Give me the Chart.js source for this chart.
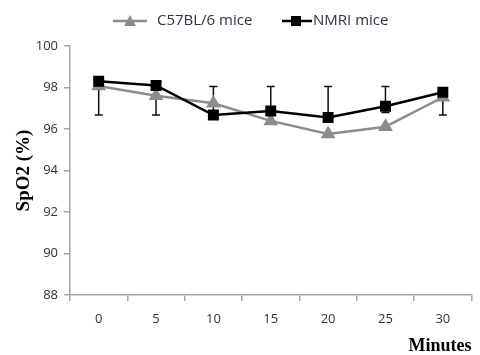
<!DOCTYPE html>
<html lang="en">
<head>
    <meta charset="UTF-8">
    <script src="https://cdn.jsdelivr.net/npm/chart.js@4.4.0/dist/chart.umd.min.js"></script>
    <title>SpO2</title>
    <style>
        body { margin: 0; background: #fff; }
        #wrap { width: 480px; height: 355px; position: relative; }
    </style>
</head>
<body>
<div id="wrap"><canvas id="myChart" width="480" height="355"></canvas></div>
<script>
    // data
    const minutes = ['0', '5', '10', '15', '20', '25', '30'];
    const c57Values = [98.07, 97.6, 97.24, 96.39, 95.76, 96.11, 97.53];
    const nmriValues = [98.3, 98.1, 96.67, 96.87, 96.55, 97.1, 97.77];
    // error bar ends (black whiskers)
    const errHigh = [98.3, 98.1, 98.05, 98.05, 98.05, 98.05, 97.77];
    const errLow = [96.67, 96.67, 96.67, 96.87, 96.55, 96.8, 96.67];
    const yTicks = [88, 90, 92, 94, 96, 98, 100];

    const tickFont = { family: 'Open Sans', size: 13 };
    const tickColor = '#2b3340';
    const axisGrey = '#a6a6a6';

    // whiskers with small caps
    const errorBars = {
        id: 'errorBars',
        beforeDatasetsDraw(chart) {
            const ctx = chart.ctx;
            const x = chart.scales.x, y = chart.scales.y;
            ctx.save();
            ctx.strokeStyle = '#111';
            ctx.lineWidth = 1.5;
            minutes.forEach((m, i) => {
                const px = x.getPixelForValue(i);
                const top = y.getPixelForValue(errHigh[i]);
                const bot = y.getPixelForValue(errLow[i]);
                ctx.beginPath();
                ctx.moveTo(px, top); ctx.lineTo(px, bot);
                ctx.moveTo(px - 4, top); ctx.lineTo(px + 4, top);
                ctx.moveTo(px - 4, bot); ctx.lineTo(px + 4, bot);
                ctx.stroke();
            });
            ctx.restore();
        }
    };

    // legend with line + marker like the original
    const lineLegend = {
        id: 'lineLegend',
        afterDraw(chart) {
            const ctx = chart.ctx;
            ctx.save();
            ctx.font = '15px "Open Sans"';
            ctx.textBaseline = 'middle';
            const yy = 21;
            // C57BL/6
            ctx.strokeStyle = '#8c8c8c'; ctx.lineWidth = 2.5;
            ctx.beginPath(); ctx.moveTo(113, yy); ctx.lineTo(147, yy); ctx.stroke();
            ctx.fillStyle = '#8c8c8c';
            ctx.beginPath(); ctx.moveTo(130, yy - 6); ctx.lineTo(136, yy + 5); ctx.lineTo(124, yy + 5); ctx.closePath(); ctx.fill();
            ctx.fillStyle = '#2b3340';
            ctx.fillText(chart.data.datasets[0].label, 157, yy);
            // NMRI
            ctx.strokeStyle = '#000';
            ctx.beginPath(); ctx.moveTo(282, yy); ctx.lineTo(312, yy); ctx.stroke();
            ctx.fillStyle = '#000';
            ctx.fillRect(291, yy - 5, 10, 10);
            ctx.fillStyle = '#2b3340';
            ctx.fillText(chart.data.datasets[1].label, 313, yy);
            ctx.restore();
        }
    };

    const ctx = document.getElementById('myChart').getContext('2d');
    const myChart = new Chart(ctx, {
        type: 'line',
        data: {
            labels: minutes,
            datasets: [{
                label: 'C57BL/6 mice',
                data: c57Values,
                borderColor: '#8c8c8c',
                backgroundColor: '#8c8c8c',
                borderWidth: 2.5,
                pointStyle: 'triangle',
                pointRadius: 6,
                pointHoverRadius: 6,
                order: 1
            }, {
                label: 'NMRI mice',
                data: nmriValues,
                borderColor: '#000',
                backgroundColor: '#000',
                borderWidth: 2.5,
                pointStyle: 'rect',
                pointRadius: 6,
                pointHoverRadius: 6,
                order: 0
            }]
        },
        options: {
            responsive: false,
            animation: false,
            layout: { padding: { left: 0, right: 6, top: 46, bottom: 0 } },
            plugins: {
                legend: { display: false },
                tooltip: { enabled: false }
            },
            scales: {
                x: {
                    offset: true,
                    grid: { offset: true, drawOnChartArea: false, tickLength: 6, color: axisGrey, lineWidth: 1.5 },
                    border: { color: axisGrey, width: 1.5 },
                    ticks: { font: tickFont, color: tickColor, padding: 10, maxRotation: 0 },
                    title: {
                        display: true, text: 'Minutes', align: 'end', color: '#000',
                        font: { family: 'Liberation Serif', size: 18, weight: 'bold' }, padding: { top: 0, bottom: -2 }
                    },
                    afterFit(scale) { scale.height = 60; }
                },
                y: {
                    min: 88,
                    max: 100,
                    afterBuildTicks(scale) { scale.ticks = yTicks.map(v => ({ value: v })); },
                    grid: { drawOnChartArea: false, tickLength: 6, color: axisGrey, lineWidth: 1.5 },
                    border: { color: axisGrey, width: 1.5 },
                    ticks: { font: tickFont, color: tickColor, padding: 6 },
                    title: {
                        display: true, text: 'SpO2 (%)', color: '#000',
                        font: { family: 'Liberation Serif', size: 19, weight: 'bold' }, padding: { top: 13, bottom: 0 }
                    },
                    afterFit(scale) { scale.width = 70; }
                }
            }
        },
        plugins: [errorBars, lineLegend]
    });
</script>
</body>
</html>
